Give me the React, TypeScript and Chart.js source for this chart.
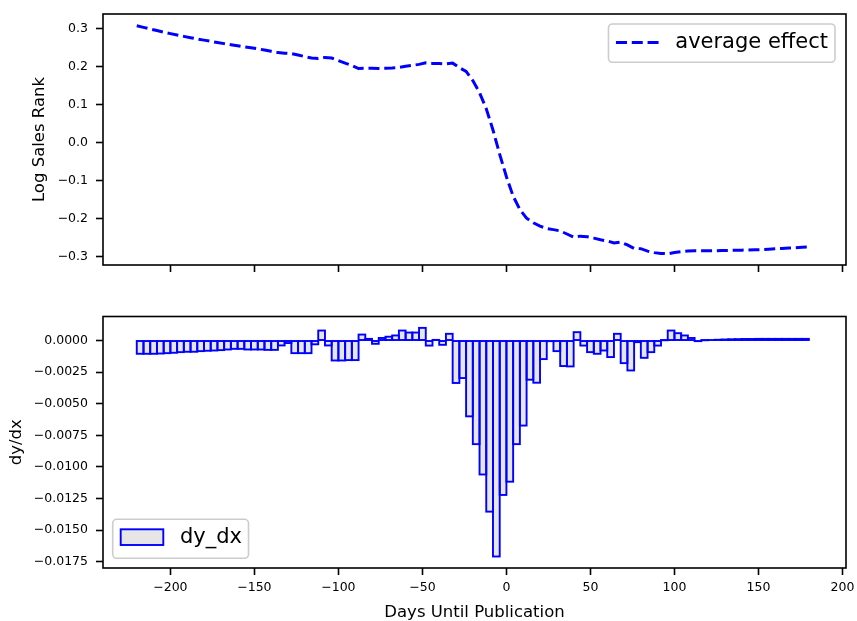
import React, { useEffect, useRef } from "react";
import { Chart, registerables } from "chart.js";

Chart.register(...registerables);

const FONT = "'DejaVu Sans', sans-serif";

// x positions of the "average effect" line (days until publication)
const days = [
  -220, -216, -212, -208, -204, -200, -196, -192, -188, -184, -180, -176, -172, -168, -164, -160, -156, -152,
  -148, -144, -140, -136, -132, -128, -124, -120, -116, -112, -108, -104, -100, -96, -92, -88, -84, -80, -76,
  -72, -68, -64, -60, -56, -52, -48, -44, -40, -36, -32, -28, -24, -20, -16, -12, -8, -4, 0, 4, 8, 12, 16, 20,
  24, 28, 32, 36, 40, 44, 48, 52, 56, 60, 64, 68, 72, 76, 80, 84, 88, 92, 96, 100, 104, 108, 112, 116, 120,
  124, 128, 132, 136, 140, 144, 148, 152, 156, 160, 164, 168, 172, 176, 180,
];

const averageEffect = [
  0.307, 0.3028, 0.2986, 0.2944, 0.2903, 0.2863, 0.2826, 0.2791, 0.2757, 0.2724, 0.2693, 0.2662, 0.2631,
  0.2601, 0.2573, 0.2546, 0.2519, 0.2492, 0.2465, 0.2432, 0.2398, 0.2365, 0.2349, 0.2341, 0.2301, 0.2261,
  0.2221, 0.2207, 0.2239, 0.2223, 0.2155, 0.209, 0.2025, 0.1945, 0.1955, 0.1955, 0.195, 0.1955, 0.196,
  0.1975, 0.2005, 0.203, 0.2055, 0.2095, 0.2079, 0.2081, 0.2067, 0.2088, 0.197, 0.187, 0.163, 0.131, 0.089,
  0.033, -0.031, -0.09, -0.141, -0.176, -0.199, -0.211, -0.22, -0.226, -0.229, -0.2324, -0.2405, -0.2487,
  -0.2461, -0.2477, -0.2514, -0.2556, -0.2588, -0.264, -0.2619, -0.2691, -0.2786, -0.2791, -0.2855, -0.2895,
  -0.2915, -0.2925, -0.2893, -0.287, -0.2854, -0.2846, -0.2848, -0.2847, -0.2845, -0.2842, -0.2838, -0.2834,
  -0.2829, -0.2824, -0.2819, -0.2814, -0.2803, -0.2795, -0.2785, -0.2775, -0.2765, -0.2755, -0.2746,
];

// centres of the dy/dx bars
const barDays = [
  -218, -214, -210, -206, -202, -198, -194, -190, -186, -182, -178, -174, -170, -166, -162, -158, -154, -150,
  -146, -142, -138, -134, -130, -126, -122, -118, -114, -110, -106, -102, -98, -94, -90, -86, -82, -78, -74,
  -70, -66, -62, -58, -54, -50, -46, -42, -38, -34, -30, -26, -22, -18, -14, -10, -6, -2, 2, 6, 10, 14, 18,
  22, 26, 30, 34, 38, 42, 46, 50, 54, 58, 62, 66, 70, 74, 78, 82, 86, 90, 94, 98, 102, 106, 110, 114, 118,
  122, 126, 130, 134, 138, 142, 146, 150, 154, 158, 162, 166, 170, 174, 178,
];

const dyDx = [
  -0.00105, -0.00105, -0.00105, -0.00103, -0.001, -0.00097, -0.00092, -0.00089, -0.00089, -0.00084, -0.00081,
  -0.00079, -0.00076, -0.00071, -0.00066, -0.00066, -0.00071, -0.00071, -0.00071, -0.00074, -0.00074, -0.00039,
  -0.0002, -0.001, -0.001, -0.001, -0.0003, 0.00079, -0.00039, -0.00158, -0.00158, -0.00155, -0.00155, 0.00047,
  0.00013, -0.00026, 0.0002, 0.0003, 0.0004, 0.00079, 0.00063, 0.00063, 0.001, -0.0004, 0.00005, -0.00034,
  0.00053, -0.00336, -0.00297, -0.006, -0.0082, -0.0106, -0.01354, -0.01709, -0.01222, -0.01117, -0.0082,
  -0.00673, -0.0031, -0.00334, -0.00147, -0.00005, -0.00084, -0.00202, -0.00205, 0.00066, -0.0004, -0.00092,
  -0.00105, -0.00079, -0.00131, 0.00053, -0.00179, -0.00237, -0.00013, -0.00137, -0.00092, -0.0004, 0.00002,
  0.00079, 0.00058, 0.0004, 0.0002, -0.00005, 0.00002, 0.00004, 0.00006, 0.00008, 0.0001, 0.00011, 0.00012,
  0.00012, 0.00013, 0.00013, 0.00013, 0.00013, 0.00013, 0.00013, 0.00013, 0.00013,
];

const xTicks = [-200, -150, -100, -50, 0, 50, 100, 150, 200];
const topYTicks = [-0.3, -0.2, -0.1, 0, 0.1, 0.2, 0.3];
const bottomYTicks = [-0.0175, -0.015, -0.0125, -0.01, -0.0075, -0.005, -0.0025, 0];

function fmt(v: number, d: number): string {
  const a = Math.abs(v) < 1e-12 ? 0 : Math.abs(v);
  const s = a.toFixed(d);
  return v < -1e-12 ? "\u2212" + s : s;
}

function roundRectPath(ctx: CanvasRenderingContext2D, x: number, y: number, w: number, h: number, r: number) {
  ctx.beginPath();
  ctx.moveTo(x + r, y);
  ctx.lineTo(x + w - r, y);
  ctx.arcTo(x + w, y, x + w, y + r, r);
  ctx.lineTo(x + w, y + h - r);
  ctx.arcTo(x + w, y + h, x + w - r, y + h, r);
  ctx.lineTo(x + r, y + h);
  ctx.arcTo(x, y + h, x, y + h - r, r);
  ctx.lineTo(x, y + r);
  ctx.arcTo(x, y, x + r, y, r);
  ctx.closePath();
}

function drawFrame(chart: any) {
  const { ctx, chartArea: a } = chart;
  ctx.save();
  ctx.strokeStyle = "#000";
  ctx.lineWidth = 1.6;
  ctx.strokeRect(a.left, a.top, a.right - a.left, a.bottom - a.top);
  ctx.restore();
}

function legendBox(ctx: CanvasRenderingContext2D, x: number, y: number, w: number, h: number) {
  roundRectPath(ctx, x, y, w, h, 4);
  ctx.fillStyle = "rgba(255,255,255,0.8)";
  ctx.fill();
  ctx.strokeStyle = "#cccccc";
  ctx.lineWidth = 1.6;
  ctx.stroke();
}

const LEG_FONT = "21px " + FONT;
const EDGE_W = 1.9;

const topPlugin = {
  id: "topDecor",
  afterDraw(chart: any) {
    drawFrame(chart);
    const { ctx, chartArea: a } = chart;
    const label = chart.data.datasets[0].label;
    ctx.save();
    ctx.font = LEG_FONT;
    const tw = ctx.measureText(label).width;
    const w = 7.5 + 42.6 + 16.7 + tw + 7;
    const h = 38.3;
    const x = a.right - 11 - w;
    const y = a.top + 10;
    legendBox(ctx, x, y, w, h);
    ctx.beginPath();
    ctx.setLineDash([11, 4.8]);
    ctx.strokeStyle = "#0000ff";
    ctx.lineWidth = 3;
    ctx.moveTo(x + 7.5, y + 18.5);
    ctx.lineTo(x + 7.5 + 42.6, y + 18.5);
    ctx.stroke();
    ctx.setLineDash([]);
    ctx.fillStyle = "#000";
    ctx.textBaseline = "middle";
    ctx.textAlign = "left";
    ctx.fillText(label, x + 7.5 + 42.6 + 16.7, y + 19);
    ctx.restore();
  },
};

const bottomPlugin = {
  id: "bottomDecor",
  afterDatasetsDraw(chart: any) {
    // bar edges centred on the bar outlines (as in the reference)
    const { ctx } = chart;
    const meta = chart.getDatasetMeta(0);
    ctx.save();
    ctx.strokeStyle = "#0000ff";
    ctx.lineWidth = EDGE_W;
    ctx.lineJoin = "miter";
    meta.data.forEach((el: any) => {
      const { x, y, base, width } = el.getProps(["x", "y", "base", "width"], true);
      ctx.strokeRect(x - width / 2, Math.min(y, base), width, Math.abs(base - y));
    });
    ctx.restore();
  },
  afterDraw(chart: any) {
    drawFrame(chart);
    const { ctx, chartArea: a } = chart;
    const label = chart.data.datasets[0].label;
    ctx.save();
    ctx.font = LEG_FONT;
    const tw = ctx.measureText(label).width;
    const w = 8 + 42.6 + 16.7 + tw + 6.5;
    const h = 39;
    const x = a.left + 9.7;
    const y = a.bottom - 9.7 - h;
    legendBox(ctx, x, y, w, h);
    ctx.fillStyle = "#e6e6e6";
    ctx.fillRect(x + 8, y + 10, 42.6, 15.7);
    ctx.strokeStyle = "#0000ff";
    ctx.lineWidth = EDGE_W;
    ctx.strokeRect(x + 8, y + 10, 42.6, 15.7);
    ctx.fillStyle = "#000";
    ctx.textBaseline = "middle";
    ctx.textAlign = "left";
    ctx.fillText(label, x + 8 + 42.6 + 16.7, y + 18.5);
    ctx.restore();
  },
};

export default function App() {
  const topRef = useRef<HTMLCanvasElement>(null);
  const botRef = useRef<HTMLCanvasElement>(null);

  useEffect(() => {
    Chart.defaults.font.family = FONT;
    Chart.defaults.color = "#000";

    const tickGrid = {
      drawOnChartArea: false,
      drawTicks: true,
      tickLength: 7,
      tickWidth: 1.6,
      tickColor: "#000",
      offset: false,
    };
    const tickFont = { family: FONT, size: 12.5 };
    const titleFont = { family: FONT, size: 16.5 };

    const xScale = (showLabels: boolean, height: number) => ({
      type: "linear" as const,
      min: -240.1,
      max: 202.1,
      bounds: "data" as const,
      offset: false,
      afterBuildTicks: (s: any) => {
        s.ticks = xTicks.map((v) => ({ value: v }));
      },
      afterFit: (s: any) => {
        s.height = height;
        s.paddingLeft = 0;
        s.paddingRight = 0;
      },
      grid: tickGrid,
      border: { display: false },
      ticks: {
        display: showLabels,
        autoSkip: false,
        maxRotation: 0,
        padding: 5,
        font: tickFont,
        color: "#000",
        callback: (v: any) => fmt(Number(v), 0),
      },
      title: showLabels
        ? { display: true, text: "Days Until Publication", font: titleFont, color: "#000", padding: { top: 0, bottom: -2 } }
        : { display: false },
    });

    const yScale = (min: number, max: number, ticks: number[], dec: number, title: string, titlePad: number) => ({
      type: "linear" as const,
      min,
      max,
      bounds: "data" as const,
      afterBuildTicks: (s: any) => {
        s.ticks = ticks.map((v) => ({ value: v }));
      },
      afterFit: (s: any) => {
        s.width = 103;
        s.paddingTop = 0;
        s.paddingBottom = 0;
      },
      grid: tickGrid,
      border: { display: false },
      ticks: {
        autoSkip: false,
        padding: 8,
        font: tickFont,
        color: "#000",
        callback: (v: any) => fmt(Number(v), dec),
      },
      title: { display: true, text: title, font: titleFont, color: "#000", padding: { top: titlePad, bottom: 0 } },
    });

    const top = new Chart(topRef.current as HTMLCanvasElement, {
      type: "line",
      data: {
        datasets: [
          {
            label: "average effect",
            data: days.map((d, i) => ({ x: d, y: averageEffect[i] })),
            borderColor: "#0000ff",
            borderWidth: 3,
            borderDash: [11, 4.8],
            pointRadius: 0,
            fill: false,
            tension: 0,
          },
        ],
      },
      options: {
        responsive: false,
        animation: false,
        devicePixelRatio: 1,
        events: [],
        layout: { padding: { top: 14, right: 11, left: 0, bottom: 0 } },
        plugins: { legend: { display: false }, tooltip: { enabled: false } },
        scales: {
          x: xScale(false, 25) as any,
          y: yScale(-0.322, 0.338, topYTicks, 1, "Log Sales Rank", 30) as any,
        },
      },
      plugins: [topPlugin],
    });

    const bot = new Chart(botRef.current as HTMLCanvasElement, {
      type: "bar",
      data: {
        datasets: [
          {
            label: "dy_dx",
            data: barDays.map((d, i) => ({ x: d, y: dyDx[i] })),
            backgroundColor: "#e6e6e6",
            borderWidth: 0,
            inflateAmount: 0,
            barPercentage: 1,
            categoryPercentage: 1,
          } as any,
        ],
      },
      options: {
        responsive: false,
        animation: false,
        devicePixelRatio: 1,
        events: [],
        layout: { padding: { top: 21.5, right: 11, left: 0, bottom: 0 } },
        plugins: { legend: { display: false }, tooltip: { enabled: false } },
        scales: {
          x: xScale(true, 53) as any,
          y: yScale(-0.018, 0.0019, bottomYTicks, 4, "dy/dx", 7) as any,
        },
      },
      plugins: [bottomPlugin],
    });

    return () => {
      top.destroy();
      bot.destroy();
    };
  }, []);

  return (
    <div
      style={{
        position: "absolute",
        left: 0,
        top: 0,
        width: 857,
        height: 621,
        overflow: "hidden",
        background: "#fff",
      }}
    >
      <canvas
        ref={topRef}
        width={857}
        height={290}
        style={{ position: "absolute", left: 0, top: 0, width: 857, height: 290, display: "block" }}
      />
      <canvas
        ref={botRef}
        width={857}
        height={326}
        style={{ position: "absolute", left: 0, top: 295, width: 857, height: 326, display: "block" }}
      />
    </div>
  );
}
